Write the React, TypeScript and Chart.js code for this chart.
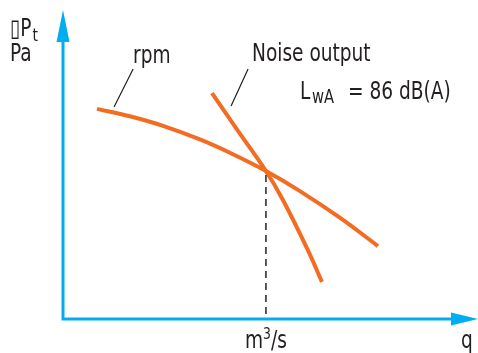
import React, { useEffect, useRef } from "react";
import { Chart, registerables } from "chart.js";

Chart.register(...registerables);

// Schematic fan curve data (arbitrary units, 0..100 on both axes)
const rpmX = [8.2, 16.1, 24.1, 33.0, 40.2, 48.9, 57.1, 66.7, 75.9];
const rpmY = [68.0, 65.6, 62.5, 58.1, 53.8, 47.9, 41.4, 32.8, 23.6];
const noiseX = [35.9, 42.2, 48.9, 53.0, 59.0, 62.4];
const noiseY = [73.1, 60.8, 47.9, 38.5, 22.3, 12.0];
const operatingX = 48.9;
const operatingY = 47.9;

const yLabelTop = "▯P";
const yLabelSub = "t";
const yUnit = "Pa";
const xLabel = "q";
const xUnitBase = "m";
const xUnitSup = "3";
const xUnitTail = "/s";
const rpmLabel = "rpm";
const noiseLabel = "Noise output";
const lwaMain = "L";
const lwaSub = "wA";
const lwaValue = "= 86 dB(A)";

const ORANGE = "#F26C21";
const BLUE = "#00AEEF";
const TEXT = "#231F20";
const FONT = "'Liberation Sans Narrow', 'DejaVu Sans Condensed', sans-serif";
const SQUEEZE = 0.86;

function txt(ctx: CanvasRenderingContext2D, s: string, x: number, y: number, size: number) {
  ctx.save();
  ctx.font = `${size}px ${FONT}`;
  ctx.translate(x, y);
  ctx.scale(SQUEEZE, 1);
  ctx.fillText(s, 0, 0);
  const w = ctx.measureText(s).width * SQUEEZE;
  ctx.restore();
  return w;
}

const overlay = {
  id: "schematicOverlay",
  afterDatasetsDraw(chart: any) {
    const ctx = chart.ctx as CanvasRenderingContext2D;
    const { left, right, top, bottom } = chart.chartArea;
    const xs = chart.scales.x;
    const ys = chart.scales.y;
    ctx.save();

    // axes
    ctx.strokeStyle = BLUE;
    ctx.fillStyle = BLUE;
    ctx.lineWidth = 3;
    ctx.lineJoin = "miter";
    ctx.beginPath();
    ctx.moveTo(left, top + 28);
    ctx.lineTo(left, bottom);
    ctx.lineTo(right - 24, bottom);
    ctx.stroke();
    ctx.beginPath();
    ctx.moveTo(left, top);
    ctx.lineTo(left - 6.5, top + 32);
    ctx.lineTo(left + 6.5, top + 32);
    ctx.closePath();
    ctx.fill();
    ctx.beginPath();
    ctx.moveTo(right, bottom);
    ctx.lineTo(right - 27, bottom - 6.5);
    ctx.lineTo(right - 27, bottom + 6.5);
    ctx.closePath();
    ctx.fill();

    // dashed drop line from operating point
    const px = xs.getPixelForValue(operatingX);
    const py = ys.getPixelForValue(operatingY);
    ctx.strokeStyle = "#333";
    ctx.lineWidth = 1.6;
    ctx.setLineDash([7, 5]);
    ctx.beginPath();
    ctx.moveTo(px, py + 4);
    ctx.lineTo(px, bottom - 1);
    ctx.stroke();
    ctx.setLineDash([]);

    // leader lines
    ctx.strokeStyle = TEXT;
    ctx.lineWidth = 1.2;
    ctx.beginPath();
    ctx.moveTo(xs.getPixelForValue(16.9), ys.getPixelForValue(80.9));
    ctx.lineTo(xs.getPixelForValue(12.3), ys.getPixelForValue(68.6));
    ctx.moveTo(xs.getPixelForValue(44.6), ys.getPixelForValue(80.9));
    ctx.lineTo(xs.getPixelForValue(40.5), ys.getPixelForValue(68.9));
    ctx.stroke();

    // texts
    ctx.fillStyle = TEXT;
    ctx.textAlign = "left";
    ctx.textBaseline = "alphabetic";
    const w1 = txt(ctx, yLabelTop, 10, 36, 24);
    txt(ctx, yLabelSub, 10 + w1 + 1, 41, 18);
    txt(ctx, yUnit, 10, 61, 24);

    txt(ctx, rpmLabel, 133, 63, 24);
    txt(ctx, noiseLabel, 252, 61, 24);

    txt(ctx, lwaMain, 300, 99, 24);
    txt(ctx, lwaSub, 312, 103, 19);
    txt(ctx, lwaValue, 348, 99, 24);

    const wm = txt(ctx, xUnitBase, 245, 348, 24);
    const ws = txt(ctx, xUnitSup, 245 + wm, 339, 16);
    txt(ctx, xUnitTail, 245 + wm + ws, 348, 24);
    txt(ctx, xLabel, 461, 348, 24);

    ctx.restore();
  },
};

export default function App() {
  const ref = useRef<HTMLCanvasElement | null>(null);
  useEffect(() => {
    if (!ref.current) return;
    const chart = new Chart(ref.current, {
      type: "scatter",
      data: {
        datasets: [
          {
            label: "rpm",
            data: rpmX.map((x, i) => ({ x, y: rpmY[i] })),
            showLine: true,
            borderColor: ORANGE,
            borderWidth: 4,
            pointRadius: 0,
            tension: 0.4,
            borderCapStyle: "butt",
          },
          {
            label: "Noise output",
            data: noiseX.map((x, i) => ({ x, y: noiseY[i] })),
            showLine: true,
            borderColor: ORANGE,
            borderWidth: 4,
            pointRadius: 0,
            tension: 0.4,
            borderCapStyle: "butt",
          },
        ],
      },
      options: {
        responsive: false,
        animation: false,
        layout: { padding: { left: 63, top: 10, right: 0, bottom: 34 } },
        plugins: { legend: { display: false }, tooltip: { enabled: false } },
        scales: {
          x: { type: "linear", min: 0, max: 100, display: false },
          y: { type: "linear", min: 0, max: 100, display: false },
        },
      },
      plugins: [overlay],
    });
    return () => chart.destroy();
  }, []);
  return (
    <div style={{ position: "absolute", left: 0, top: 0, width: 478, height: 353, background: "#fff" }}>
      <canvas ref={ref} width={478} height={353} style={{ display: "block" }} />
    </div>
  );
}
